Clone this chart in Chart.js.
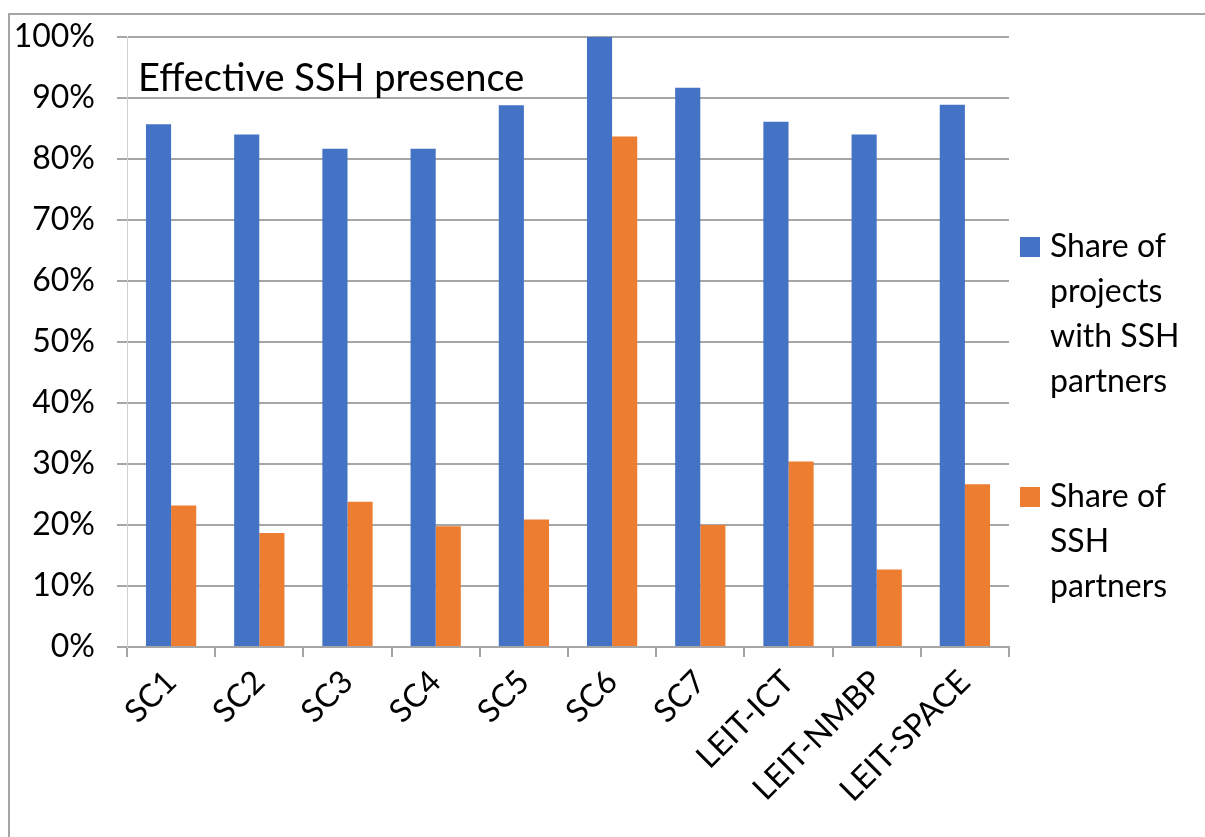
<!DOCTYPE html>
<html>
<head>
<meta charset="utf-8">
<script src="https://cdn.jsdelivr.net/npm/chart.js@4"></script>
<style>
    html, body { margin: 0; padding: 0; background: #fff; }
    #wrap { position: relative; width: 1205px; height: 837px; overflow: hidden; }
    #frame { position: absolute; left: 8px; top: 13px; right: -10px; bottom: -10px;
             border-left: 2px solid #a6a6a6; border-top: 2px solid #a6a6a6; }
    canvas { position: absolute; left: 0; top: 0; }
</style>
</head>
<body>
<div id="wrap">
    <div id="frame"></div>
    <canvas id="chart" width="1205" height="837"></canvas>
</div>
<script>
const categories = ['SC1', 'SC2', 'SC3', 'SC4', 'SC5', 'SC6', 'SC7', 'LEIT-ICT', 'LEIT-NMBP', 'LEIT-SPACE'];
const projectsShare = [85.7, 84.0, 81.7, 81.7, 88.8, 100, 91.7, 86.1, 84.0, 88.9];
const partnersShare = [23.2, 18.7, 23.8, 19.8, 20.9, 83.7, 20.0, 30.4, 12.7, 26.7];
const seriesNames = ['Share of projects with SSH partners', 'Share of SSH partners'];
const chartTitle = 'Effective SSH presence';

const FONT = 'Lato, "Open Sans", sans-serif';

// title drawn inside the plot area, top left
const titlePlugin = {
    id: 'innerTitle',
    afterDraw(chart) {
        let ctx = chart.ctx;
        ctx.save();
        ctx.font = '38px ' + FONT;
        ctx.fillStyle = '#000';
        ctx.textBaseline = 'alphabetic';
        ctx.fillText(chartTitle, chart.chartArea.left + 11, chart.chartArea.top + 54);
        ctx.restore();
    }
};

// legend on the right, labels wrapped like Excel does
const sideLegend = {
    id: 'sideLegend',
    afterDraw(chart) {
        let ctx = chart.ctx;
        ctx.save();
        ctx.font = '32px ' + FONT;
        ctx.textBaseline = 'middle';
        let x = 1020, y = 247, lineH = 45, maxW = 150;
        chart.data.datasets.forEach((ds) => {
            let words = ds.label.split(' ');
            let lines = [], cur = '';
            words.forEach((w) => {
                let test = cur ? cur + ' ' + w : w;
                if (cur && ctx.measureText(test).width > maxW) {
                    lines.push(cur);
                    cur = w;
                } else {
                    cur = test;
                }
            });
            lines.push(cur);
            ctx.fillStyle = ds.backgroundColor;
            ctx.fillRect(x, y - 10, 20, 20);
            ctx.fillStyle = '#000';
            lines.forEach((l, i) => ctx.fillText(l, x + 30, y + i * lineH));
            y += 250;
        });
        ctx.restore();
    }
};

let context = document.getElementById('chart').getContext('2d');
let chart = new Chart(context, {
    type: 'bar',
    data: {
        labels: categories,
        datasets: [{
            label: seriesNames[0],
            data: projectsShare,
            backgroundColor: '#4472C4'
        }, {
            label: seriesNames[1],
            data: partnersShare,
            backgroundColor: '#ED7D31'
        }]
    },
    options: {
        responsive: false,
        animation: false,
        layout: {
            padding: { left: 0, top: 37, right: 196, bottom: 0 }
        },
        datasets: {
            bar: { categoryPercentage: 0.57, barPercentage: 1.0 }
        },
        plugins: {
            legend: { display: false },
            tooltip: { enabled: false }
        },
        scales: {
            x: {
                grid: {
                    display: true,
                    drawOnChartArea: false,
                    drawTicks: true,
                    tickLength: 10,
                    color: '#a6a6a6',
                    lineWidth: 2
                },
                border: { color: '#a6a6a6', width: 2 },
                ticks: {
                    maxRotation: 45,
                    minRotation: 45,
                    autoSkip: false,
                    padding: 6,
                    color: '#000',
                    font: { family: FONT, size: 32 }
                },
                afterFit(scale) {
                    scale.height = 837 - 647;
                    scale.paddingLeft = 0;
                    scale.paddingRight = 0;
                }
            },
            y: {
                min: 0,
                max: 100,
                grid: {
                    color: '#a6a6a6',
                    lineWidth: 2,
                    drawTicks: true,
                    tickLength: 10
                },
                border: { color: '#d0d0d0', width: 1 },
                ticks: {
                    stepSize: 10,
                    padding: 22,
                    color: '#000',
                    font: { family: FONT, size: 32 },
                    callback: (v) => v + '%'
                },
                afterFit(scale) {
                    scale.width = 127;
                    scale.paddingTop = 0;
                    scale.paddingBottom = 0;
                }
            }
        }
    },
    plugins: [titlePlugin, sideLegend]
});
</script>
</body>
</html>
